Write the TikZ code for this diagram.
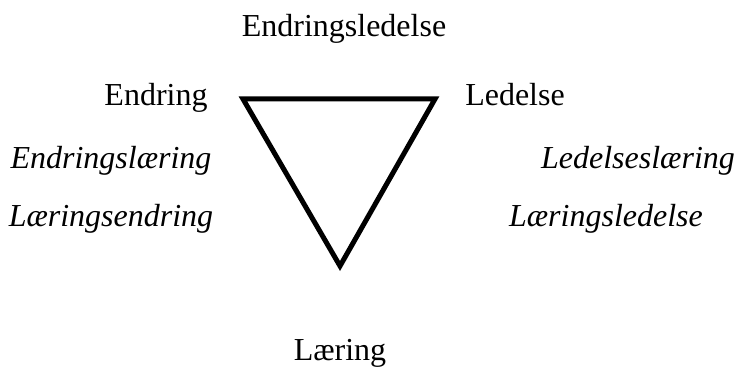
\documentclass[tikz,border=0pt]{standalone}
\usepackage{fontspec}
\setmainfont{Liberation Serif}
\begin{document}
\begin{tikzpicture}[x=1pt,y=1pt,
    every node/.style={font=\fontsize{32}{38}\selectfont,anchor=base,inner sep=0pt}]
    \useasboundingbox (0,0) rectangle (737,372);
    \coordinate (e) at (243,273);
    \coordinate (l) at (435,273);
    \coordinate (lae) at (340,106);
    \draw[line width=5pt] (e) -- (l) -- (lae) -- cycle;
    \node (el) at (344,335) {Endringsledelse};
    \node (endring) at (156,266) {Endring};
    \node (ledelse) at (515,266) {Ledelse};
    \node (laering) at (340,11) {Læring};
    \foreach \n/\x/\y/\lbl in {a/111/203/Endringslæring,b/111/145/Læringsendring,c/638/203/Ledelseslæring,d/606/145/Læringsledelse}
      \node[font=\fontsize{32}{38}\selectfont\itshape] (\n) at (\x,\y) {\lbl};
\end{tikzpicture}
\end{document}
